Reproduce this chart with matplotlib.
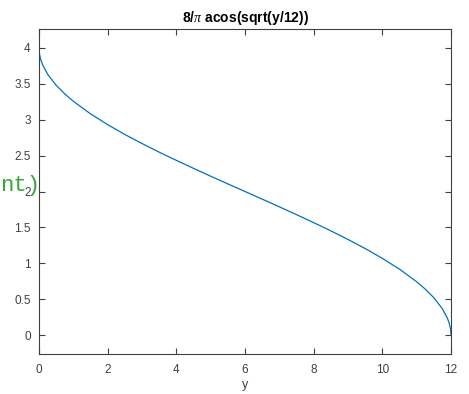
import matplotlib
matplotlib.use('Agg')
import matplotlib.pyplot as plt

# values
y_vals = [0, 0.005, 0.02, 0.05, 0.1, 0.25, 0.5, 0.75, 1, 1.5, 2, 2.5, 3, 3.5, 4, 4.5,
          5, 5.5, 6, 6.5, 7, 7.5, 8, 8.5, 9, 9.5, 10, 10.5, 11, 11.25, 11.5, 11.75,
          11.9, 11.95, 11.98, 11.995, 12]
f_vals = [4.0, 3.948, 3.896, 3.836, 3.767, 3.631, 3.477, 3.357, 3.255, 3.080, 2.930,
          2.793, 2.667, 2.547, 2.433, 2.322, 2.213, 2.106, 2.0, 1.894, 1.787, 1.678,
          1.567, 1.453, 1.333, 1.207, 1.070, 0.920, 0.745, 0.643, 0.523, 0.369,
          0.233, 0.164, 0.104, 0.052, 0.0]
x_ticks = [0, 2, 4, 6, 8, 10, 12]
y_ticks = [0, 0.5, 1, 1.5, 2, 2.5, 3, 3.5, 4]
y_ticklabels = ['0', '0.5', '1', '1.5', '2', '2.5', '3', '3.5', '4']

axis_col = '#404040'
plt.rcParams['font.family'] = ['Liberation Sans', 'DejaVu Sans']
plt.rcParams['mathtext.fontset'] = 'custom'
plt.rcParams['mathtext.it'] = 'Liberation Serif:italic'

fig = plt.figure(figsize=(4.69, 3.94), dpi=100)
ax = fig.add_axes([0.0832, 0.1015, 0.8784, 0.8249])
ax.plot(y_vals, f_vals, color='#0072BD', linewidth=0.9)

ax.set_xlim(0, 12)
ax.set_ylim(-0.26, 4.26)
ax.set_xticks(x_ticks)
ax.set_yticks(y_ticks)
ax.set_yticklabels(y_ticklabels)
ax.tick_params(direction='in', length=4, width=0.8, top=True, right=True,
               labelsize=8.5, colors=axis_col, pad=7)
ax.tick_params(axis='y', pad=6)
for s in ax.spines.values():
    s.set_color(axis_col)
    s.set_linewidth(0.8)

ax.set_title(r'8/$\pi$ acos(sqrt(y/12))', fontsize=10, fontweight='bold', pad=5)
ax.set_xlabel('y', fontsize=9, color=axis_col, labelpad=2)

# stray green code fragment overlapping the left side
fig.text(0.0, 1 - 191 / 394, 'nt)', family='Liberation Mono', fontsize=16,
         color='#3aa63a', ha='left', va='baseline')

fig.savefig('out.png', dpi=100)
